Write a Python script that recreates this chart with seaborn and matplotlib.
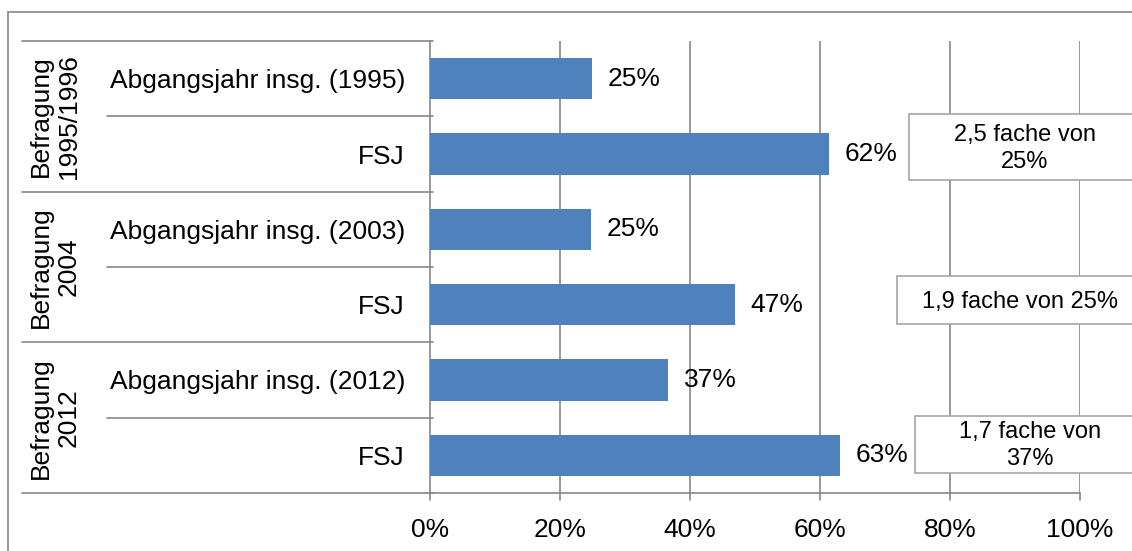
import matplotlib
matplotlib.use("Agg")
import matplotlib.pyplot as plt
import seaborn as sns
import pandas as pd
from matplotlib.patches import Rectangle
from matplotlib.lines import Line2D
from matplotlib.ticker import FuncFormatter

# ---- data ----
groups = ["Befragung\n1995/1996", "Befragung\n2004", "Befragung\n2012"]
categories = ["Abgangsjahr insg. (1995)", "FSJ",
              "Abgangsjahr insg. (2003)", "FSJ",
              "Abgangsjahr insg. (2012)", "FSJ"]
values = [0.249, 0.614, 0.248, 0.469, 0.366, 0.631]
value_labels = ["25%", "62%", "25%", "47%", "37%", "63%"]
notes = ["2,5 fache von\n25%", "1,9 fache von 25%", "1,7 fache von\n37%"]
ticks = [0, 0.2, 0.4, 0.6, 0.8, 1.0]

sns.set_theme(style="white")
plt.rcParams['font.family'] = ['Liberation Sans', 'DejaVu Sans']
plt.rcParams['text.color'] = 'black'
plt.rcParams['xtick.color'] = 'black'
plt.rcParams['ytick.color'] = 'black'
FS = 19
GRID = "#878787"
BAR = "#4F81BD"

fig = plt.figure(figsize=(11.32, 5.51), dpi=100)
ax = fig.add_axes([430/1132, 1-493/551, 650/1132, 452/551])

keys = [f"r{i}" for i in range(len(categories))]
df = pd.DataFrame({"key": keys, "value": values})
sns.barplot(data=df, x="value", y="key", orient="h", color=BAR,
            width=0.55, saturation=1, ax=ax, zorder=3, linewidth=0)

ax.set_xlim(0, 1)
ax.set_ylim(5.5, -0.5)
ax.set_xticks(ticks)
ax.xaxis.set_major_formatter(FuncFormatter(lambda v, p: f"{int(round(v*100))}%"))
ax.tick_params(axis="x", labelsize=FS, length=0, pad=18)
ax.set_yticks(range(len(categories)))
ax.set_yticklabels(categories, fontsize=FS)
ax.tick_params(axis="y", length=0, pad=18)
ax.set_xlabel("")
ax.set_ylabel("")
for s in ["top", "right"]:
    ax.spines[s].set_visible(False)
for s in ["left", "bottom"]:
    ax.spines[s].set_color(GRID)
    ax.spines[s].set_linewidth(1.2)

# gridlines
for t in ticks[1:]:
    ax.axvline(t, color=GRID, lw=1.2, zorder=1)
# bottom ticks
for t in ticks:
    ax.plot([t, t], [5.5, 5.5 + 7/75.33], color=GRID, lw=1.2, clip_on=False)

# bar labels
for i, (v, lab) in enumerate(zip(values, value_labels)):
    ax.text(v + 0.024, i, lab, va="center", ha="left", fontsize=FS)

# category separator lines
inner_x = -(430-107)/650
outer_x = -(430-22)/650
for b in range(len(categories) + 1):
    y = b - 0.5
    x0 = outer_x if b % 2 == 0 else inner_x
    ax.plot([x0, 0.004], [y, y], color=GRID, lw=1.2, clip_on=False)

# group labels
for g, lab in enumerate(groups):
    ax.text(-(430-55)/650, 2*g + 0.5, lab, rotation=90, ha="center", va="center",
            multialignment="center", fontsize=FS, linespacing=1.2)

# note boxes
box_geo = [(0.737, 0.469, 1.345, 0.915, 0.93),
           (0.718, 2.615, 3.252, 0.908, 2.96),
           (0.746, 4.482, 5.239, 0.923, 4.87)]
for (x0, y0, y1, tx, ty), txt in zip(box_geo, notes):
    ax.add_patch(Rectangle((x0, y0), 1.12 - x0, y1 - y0, facecolor="white",
                           edgecolor="#A6A6A6", lw=1.2, clip_on=False, zorder=5))
    ax.text(tx, ty, txt, ha="center", va="center", multialignment="center",
            fontsize=17, zorder=6, linespacing=1.3)

# outer frame
fig.add_artist(Line2D([8/1132, 8/1132], [0, 1-12/551], color=GRID, lw=1.2))
fig.add_artist(Line2D([8/1132, 1], [1-12/551, 1-12/551], color=GRID, lw=1.2))

fig.savefig("out.png", dpi=100)
